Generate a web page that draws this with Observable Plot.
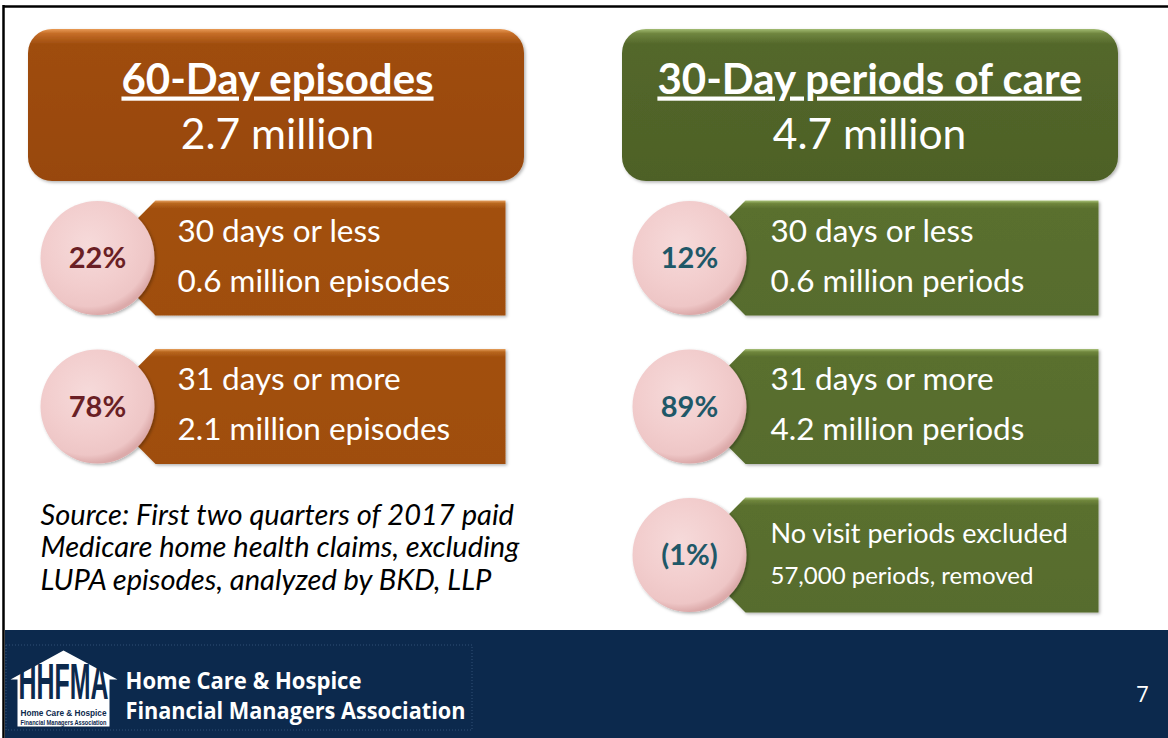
<!DOCTYPE html>
<html>
<head>
<meta charset="utf-8">
<script src="https://cdn.jsdelivr.net/npm/d3@7"></script>
<script src="https://cdn.jsdelivr.net/npm/@observablehq/plot@0.6"></script>
<style>
  html, body { margin: 0; padding: 0; background: #fff; }
  svg { display: block; }
</style>
</head>
<body>
<div id="chart"></div>
<script>
// ---------- data ----------
const panelTitles = ["60-Day episodes", "30-Day periods of care"];
const panelTotals = ["2.7 million", "4.7 million"];
const rowPanel = [0, 0, 1, 1, 1];
const rowShare = ["22%", "78%", "12%", "89%", "(1%)"];
const rowRange = ["30 days or less", "31 days or more", "30 days or less", "31 days or more", "No visit periods excluded"];
const rowCount = ["0.6 million episodes", "2.1 million episodes", "0.6 million periods", "4.2 million periods", "57,000 periods, removed"];
const sourceLines = [
  "Source: First two quarters of 2017 paid",
  "Medicare home health claims, excluding",
  "LUPA episodes, analyzed by BKD, LLP"
];
const orgName = ["Home Care & Hospice", "Financial Managers Association"];
const logoLetters = "HHFMA";
const logoSmall = ["Home Care & Hospice", "Financial Managers Association"];
const pageNumber = "7";

// ---------- layout ----------
const W = 1168, H = 738;
const FONT = "Lato, 'Open Sans', sans-serif";
const shareColor = ["#6a1f25", "#1f5868"];

const panels = panelTitles.map((t, p) => ({
  p, title: t, total: panelTotals[p],
  x1: 28 + p * 594, x2: 524 + p * 594, y1: 29, y2: 181,
  cx: 277 + p * 592
}));

const counters = [0, 0];
const rows = rowShare.map((s, i) => {
  const p = rowPanel[i];
  const k = counters[p]++;
  const top = 200 + k * 148.5, bottom = top + 115;
  const small = rowRange[i].length > 20;
  return {
    i, p, k, share: s, range: rowRange[i], count: rowCount[i],
    top, bottom, mid: (top + bottom) / 2,
    cx: 97 + p * 592,
    notch: 155 + p * 590,
    right: 505 + p * 593,
    tx: 177 + p * 593,
    small
  };
});

const calloutVerts = rows.flatMap(r => [
  {id: r.i, p: r.p, x: r.notch, y: r.top},
  {id: r.i, p: r.p, x: r.right, y: r.top},
  {id: r.i, p: r.p, x: r.right, y: r.bottom},
  {id: r.i, p: r.p, x: r.notch, y: r.bottom},
  {id: r.i, p: r.p, x: r.notch - 57, y: r.mid}
]);

const houseVerts = [
  [10, 679], [63, 650], [117, 679], [109, 679], [109, 726], [17, 726], [17, 679]
].map(([x, y]) => ({x, y}));

const line1 = rows.map(r => ({...r, text: r.range, fs: r.small ? 27 : 31.5, y: r.small ? r.top + 45 : r.top + 41}));
const line2 = rows.map(r => ({...r, text: r.count, fs: r.small ? 24 : 31.5, y: r.small ? r.top + 86 : r.top + 91}));

const LOGO_FS = 22, LOGO_VSCALE = 2.3;

const plot = Plot.plot({
  width: W, height: H,
  margin: 0,
  x: {domain: [0, W], range: [0, W], axis: null},
  y: {domain: [0, H], range: [0, H], axis: null},
  style: {background: "#fff", fontFamily: FONT, overflow: "visible"},
  marks: [
    // footer band
    Plot.rect([0], {x1: 5, x2: W, y1: 630, y2: H, fill: "#0c294d"}),
    // border lines
    Plot.ruleY([6], {x1: 3, x2: W, stroke: "#000", strokeWidth: 2.5}),
    Plot.ruleX([3], {y1: 5, y2: H, stroke: "#000", strokeWidth: 2.5}),
    // panel header boxes
    Plot.rect(panels.filter(d => d.p === 0), {x1: "x1", x2: "x2", y1: "y1", y2: "y2", rx: 24, fill: "url(#hdr0)"}),
    Plot.rect(panels.filter(d => d.p === 1), {x1: "x1", x2: "x2", y1: "y1", y2: "y2", rx: 24, fill: "url(#hdr1)"}),
    Plot.text(panels, {x: "cx", y: d => 93 - 0.32 * 42, text: "title", fill: "#fff", fontSize: 42, fontWeight: "bold"}),
    Plot.text(panels, {x: "cx", y: d => 148 - 0.32 * 42.5, text: "total", fill: "#fff", fontSize: 42.5}),
    // callouts
    Plot.line(calloutVerts.filter(d => d.p === 0), {x: "x", y: "y", z: "id", curve: "linear-closed", fill: "url(#cal0)", stroke: "none"}),
    Plot.line(calloutVerts.filter(d => d.p === 1), {x: "x", y: "y", z: "id", curve: "linear-closed", fill: "url(#cal1)", stroke: "none"}),
    Plot.dot(rows, {x: "cx", y: "mid", r: 57, fill: "url(#pink)"}),
    Plot.text(rows, {x: "cx", y: d => d.mid + 1, text: "share", fill: d => shareColor[d.p], fontSize: 29, fontWeight: "bold"}),
    Plot.text(line1, {x: "tx", y: d => d.y - 0.32 * d.fs, text: "text", fill: "#fff", fontSize: "fs", textAnchor: "start"}),
    Plot.text(line2, {x: "tx", y: d => d.y - 0.32 * d.fs, text: "text", fill: "#fff", fontSize: "fs", textAnchor: "start"}),
    // source note
    Plot.text(sourceLines, {x: 40, y: (d, i) => 524 + i * 32.7 - 9.3, text: d => d, fill: "#000", fontSize: 29.1, fontStyle: "italic", textAnchor: "start"}),
    // logo
    Plot.rect([0], {x1: 6, x2: 472, y1: 645, y2: 730, fill: "none", stroke: "#3a5a80", strokeWidth: 0.8, strokeDasharray: "1,2"}),
    Plot.line(houseVerts, {x: "x", y: "y", curve: "linear-closed", fill: "#fff", stroke: "none"}),
    Plot.text([logoLetters], {x: 63, y: 682, text: d => d, fill: "#0c294d", fontSize: LOGO_FS, fontWeight: "bold", fontFamily: "'Liberation Sans Narrow', sans-serif"}),
    Plot.text(logoSmall, {x: 63, y: (d, i) => 713 + i * 9, text: d => d, fill: "#0c294d", fontSize: (d, i) => i === 0 ? 8.5 : 6.5, fontWeight: "bold", fontFamily: "'Liberation Sans Narrow', sans-serif"}),
    Plot.text(orgName, {x: 125, y: (d, i) => 689 + i * 29.5 - 7.4, text: d => d, fill: "#fff", fontSize: 23, fontWeight: "bold", fontFamily: "'Liberation Sans Narrow', 'Open Sans', sans-serif", textAnchor: "start"}),
    Plot.text([pageNumber], {x: 1142, y: 694, text: d => d, fill: "#fff", fontSize: 22, fontFamily: "'Open Sans', sans-serif"})
  ]
});

// gradient / filter definitions
const svg = d3.select(plot);
const defs = svg.insert("defs", ":first-child");
function vgrad(id, stops) {
  const g = defs.append("linearGradient").attr("id", id).attr("x1", 0).attr("y1", 0).attr("x2", 0).attr("y2", 1);
  stops.forEach(([o, c]) => g.append("stop").attr("offset", o).attr("stop-color", c));
}
vgrad("hdr0", [[0, "#e89a55"], [0.03, "#c56d27"], [0.1, "#9f4d0e"], [1, "#984709"]]);
vgrad("hdr1", [[0, "#a3bc73"], [0.03, "#708640"], [0.1, "#53672a"], [1, "#4e6127"]]);
vgrad("cal0", [[0, "#e6a05e"], [0.025, "#b9671f"], [0.07, "#a2500e"], [1, "#9f4e0d"]]);
vgrad("cal1", [[0, "#a9c27a"], [0.025, "#70873c"], [0.07, "#5a6f2f"], [1, "#576c2d"]]);
const rg = defs.append("radialGradient").attr("id", "pink").attr("cx", "42%").attr("cy", "38%").attr("r", "62%");
[[0, "#f6dada"], [0.6, "#f2cdcd"], [0.88, "#eec6c6"], [1, "#dcaaaa"]].forEach(([o, c]) => rg.append("stop").attr("offset", o).attr("stop-color", c));
const f = defs.append("filter").attr("id", "shadow").attr("x", "-10%").attr("y", "-10%").attr("width", "130%").attr("height", "130%");
f.append("feDropShadow").attr("dx", 1.5).attr("dy", 1.5).attr("stdDeviation", 1.5).attr("flood-color", "#000").attr("flood-opacity", 0.3);

// apply shadow to shapes filled with gradients
svg.selectAll("[fill^='url(#']").attr("filter", "url(#shadow)");

// text styling touches (matched by content)
const texts = svg.selectAll("text");
const fsOf = el => +(el.getAttribute("font-size") || el.parentNode.getAttribute("font-size"));
texts.filter(function () { return panelTitles.includes(this.textContent); }).style("text-decoration", "underline");
texts.filter(function () { return this.textContent === logoLetters; })
  .attr("textLength", 90).attr("lengthAdjust", "spacingAndGlyphs")
  .each(function () {
    const t = this.getAttribute("transform") || "";
    this.setAttribute("transform", t + ` scale(1,${LOGO_VSCALE})`);
  });
const smallLen = [86, 86];
texts.filter(function () { return logoSmall.includes(this.textContent) && fsOf(this) < 12; })
  .each(function () {
    this.setAttribute("textLength", smallLen[logoSmall.indexOf(this.textContent)]);
    this.setAttribute("lengthAdjust", "spacingAndGlyphs");
  });
const orgLen = [236, 340];
texts.filter(function () { return orgName.includes(this.textContent) && fsOf(this) > 20; })
  .each(function () {
    this.setAttribute("textLength", orgLen[orgName.indexOf(this.textContent)]);
    this.setAttribute("lengthAdjust", "spacingAndGlyphs");
  });

document.getElementById("chart").appendChild(plot);
</script>
</body>
</html>
